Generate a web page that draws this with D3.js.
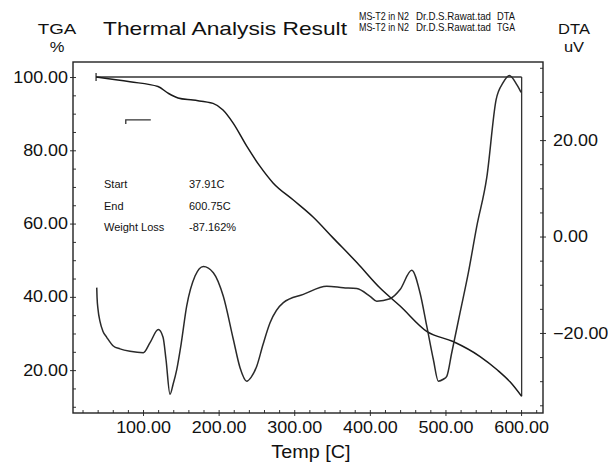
<!DOCTYPE html>
<html>
<head>
<meta charset="utf-8">
<script src="https://cdn.jsdelivr.net/npm/d3@7"></script>
<style>
    body { margin: 0; background: #fff; }
    text { font-family: "Liberation Sans", Arial, sans-serif; fill: #111; }
</style>
</head>
<body>
<div id="chart"></div>
<script>
// TGA curve (weight %) vs temperature
var tgaTemp = [37.9, 82.8, 119.8, 133.1, 146.3, 166.1, 192.6, 205.8, 219.0, 237.6, 254.8, 272.0,
    298.4, 324.9, 351.3, 383.1, 413.5, 440.0, 475.7, 510.1, 545.8, 568.3, 585.4, 600.75];
var tgaPct = [100.0, 98.7, 97.4, 95.6, 94.3, 93.7, 92.8, 91.0, 87.5, 81.0, 75.6, 71.1,
    66.5, 61.8, 56.1, 49.3, 42.4, 37.5, 30.5, 27.8, 23.7, 20.1, 16.8, 12.84];

// DTA curve (uV) vs temperature
var dtaTemp = [38.8, 39.2, 40.5, 43.1, 47.1, 52.0, 60.7, 69.6, 82.8, 100.4, 109.3, 120.2, 126.5, 130.4,
    135.7, 139.7, 144.6, 150.3, 157.8, 168.8, 179.8, 193.0, 206.2, 219.4, 228.3, 237.2, 242.9,
    250.4, 258.7, 268.0, 285.6, 312.0, 343.0, 364.9, 382.7, 400.3, 409.1, 426.7, 440.0, 455.4,
    466.4, 475.3, 484.0, 490.6, 497.2, 501.7, 508.3, 519.3, 530.3, 541.4, 554.6, 567.0, 576.2,
    584.5, 594.3, 600.0];
var dtaUv = [-10.6, -12.6, -15.1, -17.6, -19.7, -20.9, -22.7, -23.3, -23.8, -24.1, -22.0, -19.3, -20.9, -25.5,
    -32.7, -30.7, -27.6, -22.4, -14.4, -8.2, -6.2, -7.5, -12.4, -21.3, -27.2, -30.0, -29.2,
    -26.9, -22.4, -17.9, -13.7, -12.0, -10.3, -10.6, -10.8, -12.4, -13.4, -12.9, -11.0, -7.0,
    -11.7, -18.6, -25.5, -30.0, -29.6, -29.0, -24.1, -15.8, -7.5, 2.1, 12.2, 28.4, 31.9,
    33.4, 31.5, 29.9];

// analysis result
var startT = 37.91, endT = 600.75, startPct = 100, endPct = 12.84;
var infoLabels = ["Start", "End", "Weight Loss"];
var infoValues = ["37.91C", "600.75C", "-87.162%"];

// little scale marker left of the curves
var markerTemp = [77.2, 77.2, 110.3];
var markerPct = [87.2, 88.3, 88.3];

var tempTicks = [100, 200, 300, 400, 500, 600];
var tgaTicks = [20, 40, 60, 80, 100];
var dtaTicks = [-20, 0, 20];

var headerLeft = ["MS-T2 in N2", "MS-T2 in N2"];
var headerMid = ["Dr.D.S.Rawat.tad", "Dr.D.S.Rawat.tad"];
var headerRight = ["DTA", "TGA"];

(function () {
    var width = 608, height = 466;
    var left = 73, right = 543, top = 62, bottom = 413;

    var svg = d3.select("#chart").append("svg")
        .attr("width", width)
        .attr("height", height);

    var x = d3.scaleLinear().domain([7.4, 629]).range([left, right]);
    var yL = d3.scaleLinear().domain([8.3, 104.1]).range([bottom, top]);
    var yR = d3.scaleLinear().domain([-36.6, 36.2]).range([bottom, top]);

    var fmt = d3.format(".2f");

    // stretch text a bit horizontally like the scanned print
    function stretch(sel, k) {
        sel.attr("lengthAdjust", "spacingAndGlyphs")
            .attr("textLength", function () {
                return this.getComputedTextLength() * k;
            });
    }

    // minor ticks (inward)
    svg.append("g")
        .attr("transform", "translate(0," + bottom + ")")
        .call(d3.axisBottom(x).tickValues(d3.range(20, 621, 20)).tickSize(-3).tickFormat(""))
        .call(function (g) { g.select(".domain").remove(); });
    svg.append("g")
        .attr("transform", "translate(" + left + ",0)")
        .call(d3.axisLeft(yL).tickValues(d3.range(10, 101, 5)).tickSize(-3).tickFormat(""))
        .call(function (g) { g.select(".domain").remove(); });
    svg.append("g")
        .attr("transform", "translate(" + right + ",0)")
        .call(d3.axisRight(yR).tickValues(d3.range(-35, 36, 5)).tickSize(-3).tickFormat(""))
        .call(function (g) { g.select(".domain").remove(); });

    // major ticks + labels
    var xAxis = svg.append("g")
        .attr("transform", "translate(0," + bottom + ")")
        .call(d3.axisBottom(x).tickValues(tempTicks).tickSize(3).tickPadding(6).tickFormat(fmt));
    var lAxis = svg.append("g")
        .attr("transform", "translate(" + left + ",0)")
        .call(d3.axisLeft(yL).tickValues(tgaTicks).tickSize(3).tickPadding(2).tickFormat(fmt));
    var rAxis = svg.append("g")
        .attr("transform", "translate(" + right + ",0)")
        .call(d3.axisRight(yR).tickValues(dtaTicks).tickSize(3).tickPadding(7).tickFormat(fmt));

    [xAxis, lAxis, rAxis].forEach(function (g) {
        g.select(".domain").remove();
        g.selectAll("text")
            .style("font-size", "16px")
            .attr("fill", "#111")
            .call(stretch, 1.12);
    });
    svg.selectAll(".tick line").attr("stroke", "#333").attr("stroke-width", 1);

    // frame
    svg.append("rect")
        .attr("x", left).attr("y", top)
        .attr("width", right - left).attr("height", bottom - top)
        .attr("fill", "none")
        .attr("stroke", "#222")
        .attr("stroke-width", 1.4);

    // TGA reference lines: start weight level, start bar and end drop
    var refs = svg.append("g").attr("stroke", "#333").attr("stroke-width", 1.3).attr("fill", "none");
    refs.append("line")
        .attr("x1", x(startT)).attr("x2", x(endT))
        .attr("y1", yL(startPct)).attr("y2", yL(startPct));
    refs.append("line")
        .attr("x1", x(startT)).attr("x2", x(startT))
        .attr("y1", yL(startPct + 1.1)).attr("y2", yL(startPct - 1.1));
    refs.append("line")
        .attr("x1", x(endT)).attr("x2", x(endT))
        .attr("y1", yL(startPct)).attr("y2", yL(endPct));
    refs.append("path")
        .attr("d", d3.line()
            .x(function (d, i) { return x(markerTemp[i]); })
            .y(function (d, i) { return yL(markerPct[i]); })(markerTemp));

    // curves
    var tgaLine = d3.line()
        .x(function (d, i) { return x(tgaTemp[i]); })
        .y(function (d, i) { return yL(tgaPct[i]); })
        .curve(d3.curveMonotoneX);
    var dtaLine = d3.line()
        .x(function (d, i) { return x(dtaTemp[i]); })
        .y(function (d, i) { return yR(dtaUv[i]); })
        .curve(d3.curveMonotoneX);

    svg.append("path")
        .attr("d", tgaLine(tgaTemp))
        .attr("fill", "none")
        .attr("stroke", "#1a1a1a")
        .attr("stroke-width", 1.5);
    svg.append("path")
        .attr("d", dtaLine(dtaTemp))
        .attr("fill", "none")
        .attr("stroke", "#2a2a2a")
        .attr("stroke-width", 1.5);

    // result box
    var info = svg.append("g").style("font-size", "11px");
    infoLabels.forEach(function (t, i) {
        info.append("text").attr("x", 104).attr("y", 188 + i * 21.5).text(t);
        info.append("text").attr("x", 189).attr("y", 188 + i * 21.5).text(infoValues[i]);
    });

    // header
    svg.append("text").attr("x", 57).attr("y", 34).attr("text-anchor", "middle")
        .style("font-size", "15px").text("TGA").call(stretch, 1.25);
    svg.append("text").attr("x", 57).attr("y", 52).attr("text-anchor", "middle")
        .style("font-size", "15px").text("%").call(stretch, 1.1);
    svg.append("text").attr("x", 574).attr("y", 34).attr("text-anchor", "middle")
        .style("font-size", "15px").text("DTA").call(stretch, 1.1);
    svg.append("text").attr("x", 574).attr("y", 52).attr("text-anchor", "middle")
        .style("font-size", "15px").text("uV").call(stretch, 1.1);

    svg.append("text").attr("x", 103).attr("y", 35)
        .style("font-size", "19px")
        .attr("textLength", 244).attr("lengthAdjust", "spacingAndGlyphs")
        .text("Thermal Analysis Result");

    var hdr = svg.append("g").style("font-size", "10.5px");
    [0, 1].forEach(function (i) {
        var yy = 19.5 + i * 11.5;
        hdr.append("text").attr("x", 359).attr("y", yy)
            .attr("textLength", 50).attr("lengthAdjust", "spacingAndGlyphs").text(headerLeft[i]);
        hdr.append("text").attr("x", 416).attr("y", yy)
            .attr("textLength", 75).attr("lengthAdjust", "spacingAndGlyphs").text(headerMid[i]);
        hdr.append("text").attr("x", 497).attr("y", yy)
            .attr("textLength", 18).attr("lengthAdjust", "spacingAndGlyphs").text(headerRight[i]);
    });

    // x title
    svg.append("text").attr("x", 311).attr("y", 458).attr("text-anchor", "middle")
        .style("font-size", "18px").text("Temp [C]").call(stretch, 1.1);
})();
</script>
</body>
</html>
